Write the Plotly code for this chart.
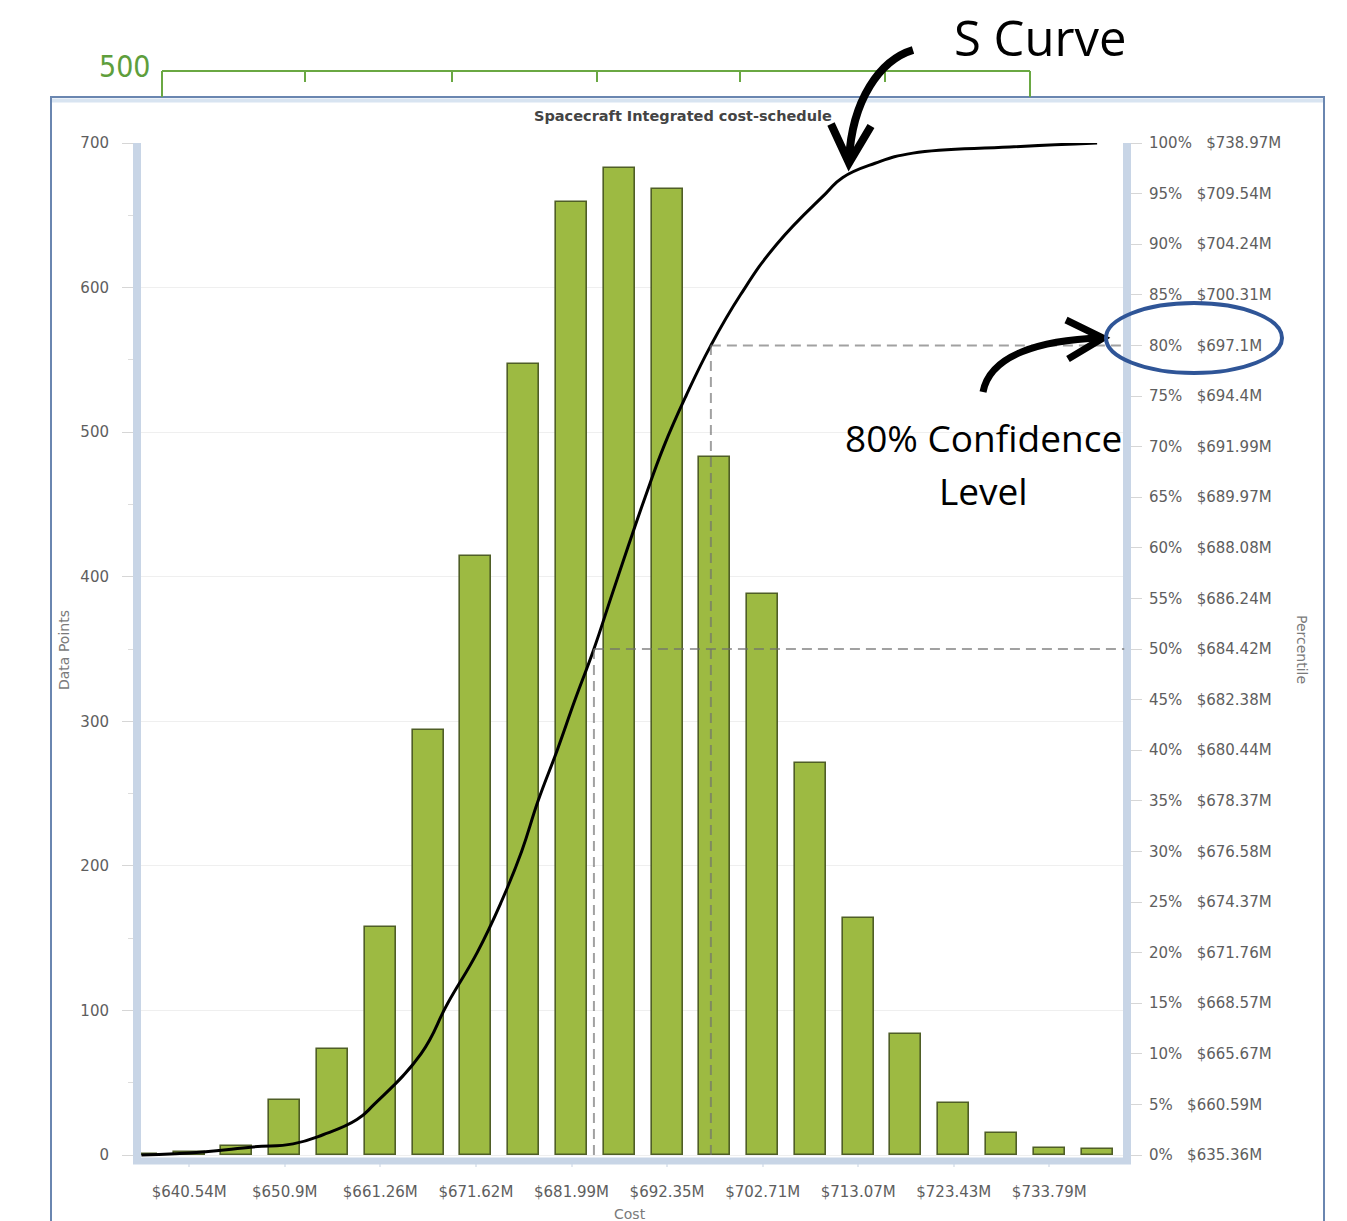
import plotly.graph_objects as go

# ---------------- data ----------------
bin_centers = [635.36, 640.54, 645.72, 650.90, 656.08, 661.26, 666.44, 671.62, 676.80, 681.99,
               687.17, 692.35, 697.53, 702.71, 707.89, 713.07, 718.25, 723.43, 728.61, 733.79, 738.97]
counts = [1, 2, 6, 38, 73, 158, 294, 414, 547, 659, 683, 668, 483, 388, 271, 164, 84, 36, 15, 5, 4]

# S-curve (cumulative percentile vs cost)
cdf_cost = [635.36, 642.03, 647.46, 651.80, 655.05, 658.73, 660.59, 665.67, 668.57, 671.76, 674.37,
            676.58, 678.37, 680.44, 682.38, 684.42, 686.24, 688.08, 689.97, 691.99, 694.40,
            697.10, 700.31, 704.24, 709.54, 711.40, 714.90, 719.00, 729.50, 738.97]
cdf_pct = [0, 0.3, 0.8, 1.1, 2.0, 3.5, 5, 10, 15, 20, 25,
           30, 35, 40, 45, 50, 55, 60, 65, 70, 75,
           80, 85, 90, 95, 96.6, 98.0, 99.0, 99.6, 100]

# right axis labels
pct_ticks = [0, 5, 10, 15, 20, 25, 30, 35, 40, 45, 50, 55, 60, 65, 70, 75, 80, 85, 90, 95, 100]
pct_costs = ["$635.36M", "$660.59M", "$665.67M", "$668.57M", "$671.76M", "$674.37M", "$676.58M",
             "$678.37M", "$680.44M", "$682.38M", "$684.42M", "$686.24M", "$688.08M", "$689.97M",
             "$691.99M", "$694.4M", "$697.1M", "$700.31M", "$704.24M", "$709.54M", "$738.97M"]

# x axis labels
x_ticks = [640.54, 650.90, 661.26, 671.62, 681.99, 692.35, 702.71, 713.07, 723.43, 733.79]
x_labels = ["$640.54M", "$650.9M", "$661.26M", "$671.62M", "$681.99M", "$692.35M",
            "$702.71M", "$713.07M", "$723.43M", "$733.79M"]

y_ticks = [0, 100, 200, 300, 400, 500, 600, 700]

conf80_cost, conf80_pct = 697.10, 80
conf50_cost, conf50_pct = 684.42, 50

# ---------------- geometry ----------------
W, Hh = 1347, 1221
L, R, T, B = 137, 1127, 143, 1158
PW, PH = R - L, B - T
y_px_per = (1155 - 143) / 700.0
ymin = -(B - 1155) / y_px_per
x_px_per = 9.224
x0_val = 635.36 - (141.4 - L) / x_px_per
x1_val = 635.36 + (R - 141.4) / x_px_per


def px(x):
    return (x - L) / PW


def py(y):
    return (B - y) / PH


def P(x, y):
    return f"{px(x):.5f},{py(y):.5f}"


fig = go.Figure()

fig.add_trace(go.Bar(
    x=bin_centers, y=counts, width=3.36,
    marker=dict(color="#9dba42", line=dict(color="#4f5e26", width=1.6)),
    hoverinfo="x+y", showlegend=False,
))

fig.add_trace(go.Scatter(
    x=cdf_cost, y=cdf_pct, yaxis="y2", mode="lines",
    line=dict(color="black", width=3, shape="spline", smoothing=1.3),
    showlegend=False,
))

tick_font = dict(family="DejaVu Sans", size=15, color="#5e5e5e")
nb = "\u00a0"
right_text = [f"{p}%{nb*3}{c}" for p, c in zip(pct_ticks, pct_costs)]

fig.update_layout(
    width=W, height=Hh,
    margin=dict(l=L, r=W - R, t=T, b=Hh - B),
    paper_bgcolor="white", plot_bgcolor="white",
    bargap=0,
    xaxis=dict(range=[x0_val, x1_val], tickvals=x_ticks, ticktext=x_labels,
               showgrid=False, zeroline=False, showline=False,
               ticks="outside", ticklen=8, tickcolor="#e2e8f0", tickwidth=2,
               ticklabelstandoff=12, tickfont=tick_font),
    yaxis=dict(range=[ymin, 700], tickvals=y_ticks, showgrid=True, gridcolor="#efefef",
               zeroline=False, showline=False, ticks="outside", ticklen=14,
               tickcolor="#d6d6d6", tickfont=tick_font, ticklabelstandoff=10,
               minor=dict(dtick=50, ticks="outside", ticklen=8, tickcolor="#dddddd", showgrid=False)),
    yaxis2=dict(range=[ymin / 7.0, 100], overlaying="y", side="right",
                tickvals=pct_ticks, ticktext=right_text, showgrid=False, zeroline=False,
                showline=False, ticks="outside", ticklen=14, tickcolor="#d6d6d6",
                tickfont=tick_font, ticklabelstandoff=4),
)

shapes = []
# frame
shapes.append(dict(type="path", xref="paper", yref="paper",
                   path=f"M {P(51,1240)} L {P(51,97)} L {P(1324,97)} L {P(1324,1240)}",
                   line=dict(color="#6a86b0", width=2), layer="below"))
shapes.append(dict(type="line", xref="paper", yref="paper",
                   x0=px(52), x1=px(1323), y0=py(100.5), y1=py(100.5),
                   line=dict(color="#d8e4f1", width=4), layer="below"))
# axis bars
shapes.append(dict(type="line", xref="paper", yref="paper", x0=px(L), x1=px(L),
                   y0=py(143), y1=py(1164), line=dict(color="#c8d5e6", width=8), layer="above"))
shapes.append(dict(type="line", xref="paper", yref="paper", x0=px(R), x1=px(R),
                   y0=py(143), y1=py(1164), line=dict(color="#c8d5e6", width=8), layer="above"))
shapes.append(dict(type="line", xref="paper", yref="paper", x0=px(L - 4), x1=px(R + 4),
                   y0=py(1161), y1=py(1161), line=dict(color="#c8d5e6", width=7), layer="above"))

# dashed confidence lines
dash_line = dict(color="rgba(110,110,110,0.65)", width=2, dash="10px,6px")
for c, p in [(conf80_cost, conf80_pct), (conf50_cost, conf50_pct)]:
    shapes.append(dict(type="line", xref="x", yref="y2", x0=c, x1=x1_val - 0.3, y0=p, y1=p,
                       line=dash_line, layer="above"))
    shapes.append(dict(type="line", xref="x", yref="y2", x0=c, x1=c, y0=0, y1=p,
                       line=dash_line, layer="above"))

# green bracket (top)
green = "#6aa843"
shapes.append(dict(type="line", xref="paper", yref="paper", x0=px(162), x1=px(1030),
                   y0=py(71), y1=py(71), line=dict(color=green, width=2)))
for tx in [305, 452, 597, 740, 885]:
    shapes.append(dict(type="line", xref="paper", yref="paper", x0=px(tx), x1=px(tx),
                       y0=py(71), y1=py(82), line=dict(color=green, width=2)))
for tx in [162, 1030]:
    shapes.append(dict(type="line", xref="paper", yref="paper", x0=px(tx), x1=px(tx),
                       y0=py(71), y1=py(97), line=dict(color=green, width=2)))

# callout arrows
arrow = dict(color="black", width=8)
shapes.append(dict(type="path", xref="paper", yref="paper",
                   path=f"M {P(913,50)} C {P(880,60)} {P(852,100)} {P(849,160)}", line=arrow))
shapes.append(dict(type="path", xref="paper", yref="paper",
                   path=f"M {P(831,124)} L {P(849,163)} L {P(871,126)}", line=arrow))
arrow2 = dict(color="black", width=7)
shapes.append(dict(type="path", xref="paper", yref="paper",
                   path=f"M {P(983,392)} C {P(990,355)} {P(1040,340)} {P(1101,338)}", line=arrow2))
shapes.append(dict(type="path", xref="paper", yref="paper",
                   path=f"M {P(1066,320)} L {P(1103,338)} L {P(1068,359)}", line=arrow2))
# ellipse
shapes.append(dict(type="circle", xref="paper", yref="paper", x0=px(1106), x1=px(1282),
                   y0=py(373), y1=py(303), line=dict(color="#2f5597", width=4)))

fig.update_layout(shapes=shapes)

ann = []


def add_text(text, x, y, size, family, color, angle=0, xanchor="center"):
    ann.append(dict(text=text, x=px(x), y=py(y), xref="paper", yref="paper",
                    showarrow=False, xanchor=xanchor, yanchor="middle", textangle=angle,
                    font=dict(family=family, size=size, color=color)))


add_text("<b>Spacecraft Integrated cost-schedule</b>", 683, 116, 14.5, "DejaVu Sans", "#444444")
add_text("Data Points", 64, 650, 14, "DejaVu Sans", "#7a7a7a", angle=-90)
add_text("Percentile", 1302, 649, 14, "DejaVu Sans", "#7a7a7a", angle=90)
add_text("Cost", 630, 1214, 14, "DejaVu Sans", "#7a7a7a")
add_text("S Curve", 1040, 37, 49, "Open Sans", "black")
add_text("80% Confidence", 983, 437, 37, "Open Sans", "black")
add_text("Level", 983, 490, 37, "Open Sans", "black")
add_text("500", 125, 66, 30, "DejaVu Sans Condensed", "#5e9e3c")

fig.update_layout(annotations=ann)

fig.write_html("out.html")
